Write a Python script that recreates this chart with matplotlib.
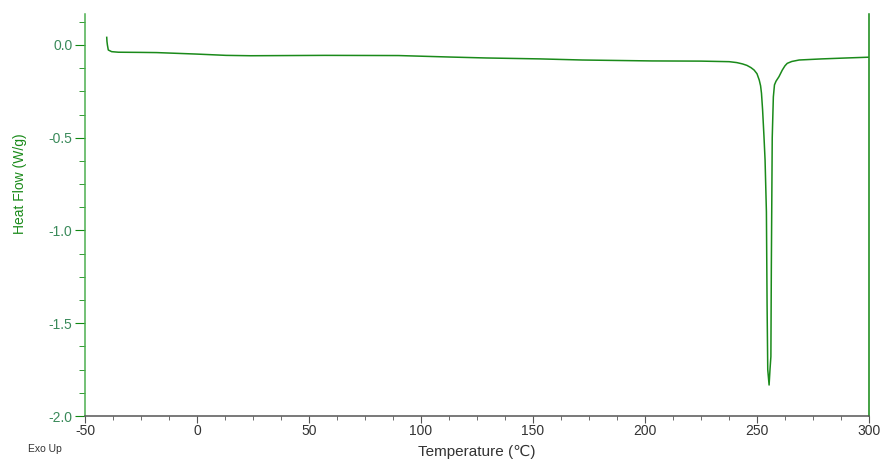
import numpy as np
import matplotlib.pyplot as plt
from matplotlib.ticker import MultipleLocator

plt.rcParams['font.family'] = ['Liberation Sans', 'DejaVu Sans']
plt.rcParams['axes.unicode_minus'] = False

# temperature (C) and heat flow (W/g)
temp = [-40.3, -40.2, -40.0, -39.6, -38.1, -35.1, -25, -18, -0.2, 13, 24, 57, 90,
        113, 129, 153, 172, 203, 225, 237.6, 241, 243.5, 245.5, 247.3, 248.7,
        250, 251, 251.6, 252, 252.5, 253.1, 253.6, 254.2, 254.5, 254.8, 255.4,
        255.8, 256.2, 256.4, 256.8, 257.3, 257.8, 258.5, 259.8, 261.3, 262.5,
        263.5, 265.5, 268.8, 279, 290, 299.5]
heat = [0.041, 0.02, 0.0, -0.027, -0.036, -0.039, -0.040, -0.041, -0.049, -0.056,
        -0.058, -0.056, -0.057, -0.065, -0.070, -0.075, -0.081, -0.086, -0.087,
        -0.090, -0.095, -0.102, -0.110, -0.122, -0.135, -0.155, -0.189, -0.22,
        -0.26, -0.35, -0.49, -0.62, -0.9, -1.4, -1.75, -1.833, -1.75, -1.68,
        -1.2, -0.5, -0.28, -0.215, -0.195, -0.171, -0.135, -0.112, -0.099,
        -0.089, -0.081, -0.075, -0.070, -0.066]

fig = plt.figure(figsize=(8.82, 4.59), dpi=100)
ax = fig.add_axes([85/882, 43/459, 784/882, 402/459])

ax.plot(temp, heat, color='#1a8a1a', lw=1.1)

ax.set_xlim(-50, 300)
ax.set_ylim(-2.0, 0.167)
ax.xaxis.set_major_locator(MultipleLocator(50))
ax.xaxis.set_minor_locator(MultipleLocator(12.5))
ax.yaxis.set_major_locator(MultipleLocator(0.5))
ax.yaxis.set_minor_locator(MultipleLocator(0.125))
ax.yaxis.set_major_formatter(plt.FuncFormatter(lambda v, p: '%.1f' % v))

ax.spines['top'].set_visible(False)
ax.spines['left'].set_color('#4caf50')
ax.spines['right'].set_color('#118811')
ax.spines['bottom'].set_color('#555555')
for s in ['left', 'right', 'bottom']:
    ax.spines[s].set_linewidth(1.1)

ax.tick_params(axis='x', which='major', length=5, color='#555555',
               labelsize=10, labelcolor='#333333', pad=1)
ax.tick_params(axis='x', which='minor', length=3, color='#555555')
ax.tick_params(axis='y', which='major', length=7, color='#118811',
               labelsize=10, labelcolor='#3a8a5a', pad=2)
ax.tick_params(axis='y', which='minor', length=4, color='#118811')

fig.text(477/882, 1 - 452/459, 'Temperature (\u2103)', ha='center', va='center',
         fontsize=11, color='#333333')
fig.text(20/882, 1 - 184/459, 'Heat Flow (W/g)', ha='center', va='center',
         rotation=90, fontsize=10, color='#1a8a1a')
fig.text(28/882, 1 - 449/459, 'Exo Up', ha='left', va='center',
         fontsize=7.5, color='#333333')

fig.savefig('out.png', dpi=100)
